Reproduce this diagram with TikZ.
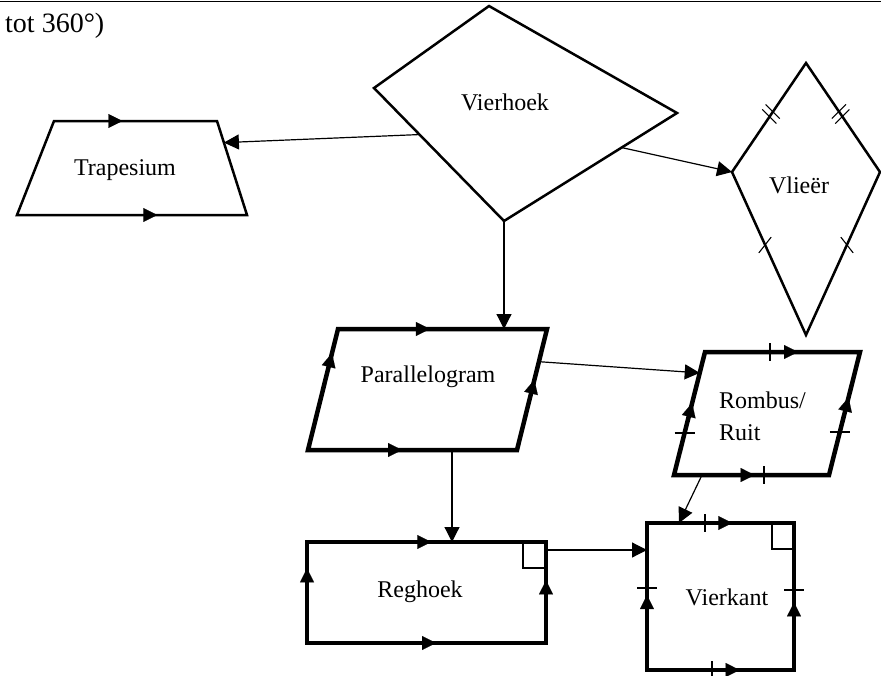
\documentclass[tikz,border=0pt]{standalone}
\usepackage{fontspec}
\setmainfont{Liberation Serif}
\usetikzlibrary{arrows.meta,calc}

\tikzset{
  shp/.style={line width=2.5pt, line join=miter},
  boldshp/.style={line width=4.5pt, line join=miter},
  conn/.style={line width=1.2pt, -{Triangle[length=15pt,width=15pt]}},
  edgetip/.style={line width=0.1pt, -{Triangle[length=14pt,width=14pt]}},
  tickline/.style={line width=1.1pt},
  lbl/.style={font=\fontsize{24}{32}\selectfont, inner sep=0pt},
}

\begin{document}
\begin{tikzpicture}[x=1pt,y=-1pt]
  \useasboundingbox (0,0) rectangle (881,675);
  \draw[line width=1.8pt] (0,1.5) -- (881,1.5);
  \node[lbl, anchor=base west, font=\fontsize{28}{30}\selectfont] (title) at (5,32) {tot 360°)};

  % corner points (pixels, y down)
  \coordinate (vh-t) at (489,6);   \coordinate (vh-r) at (677,113);
  \coordinate (vh-b) at (504,221); \coordinate (vh-l) at (374,88);
  \coordinate (tr-tl) at (54,121); \coordinate (tr-tr) at (217,121);
  \coordinate (tr-br) at (247,215); \coordinate (tr-bl) at (17,215);
  \coordinate (vl-t) at (806,63);  \coordinate (vl-r) at (880,172);
  \coordinate (vl-b) at (806,335); \coordinate (vl-l) at (732,172);
  \coordinate (pa-tl) at (338,329); \coordinate (pa-tr) at (547,329);
  \coordinate (pa-br) at (517,450); \coordinate (pa-bl) at (308,450);
  \coordinate (ro-tl) at (705,352); \coordinate (ro-tr) at (860,352);
  \coordinate (ro-br) at (829,475); \coordinate (ro-bl) at (674,475);
  \coordinate (rh-tl) at (307,542); \coordinate (rh-tr) at (546,542);
  \coordinate (rh-br) at (546,643); \coordinate (rh-bl) at (307,643);
  \coordinate (vk-tl) at (647,523); \coordinate (vk-tr) at (794,523);
  \coordinate (vk-br) at (794,670); \coordinate (vk-bl) at (647,670);

  % shapes
  \draw[shp] (vh-t) -- (vh-r) -- (vh-b) -- (vh-l) -- cycle;
  \draw[shp] (tr-tl) -- (tr-tr) -- (tr-br) -- (tr-bl) -- cycle;
  \draw[shp] (vl-t) -- (vl-r) -- (vl-b) -- (vl-l) -- cycle;
  \draw[boldshp] (pa-tl) -- (pa-tr) -- (pa-br) -- (pa-bl) -- cycle;
  \draw[boldshp] (ro-tl) -- (ro-tr) -- (ro-br) -- (ro-bl) -- cycle;
  \draw[boldshp] (rh-tl) -- (rh-tr) -- (rh-br) -- (rh-bl) -- cycle;
  \draw[boldshp] (vk-tl) -- (vk-tr) -- (vk-br) -- (vk-bl) -- cycle;

  % right angles
  \draw[shp] (523,542) -- (523,568) -- (546,568);
  \draw[shp] (772,523) -- (772,549) -- (794,549);

  % parallel arrows on the sides
  \foreach \a/\b/\f in {tr-tl/tr-tr/0.42, tr-bl/tr-br/0.61,
      pa-tl/pa-tr/0.44, pa-bl/pa-br/0.45, pa-bl/pa-tl/0.80, pa-br/pa-tr/0.58,
      ro-tl/ro-tr/0.60, ro-bl/ro-br/0.52, ro-bl/ro-tl/0.585, ro-br/ro-tr/0.63,
      rh-tl/rh-tr/0.52, rh-bl/rh-br/0.54, rh-bl/rh-tl/0.74, rh-br/rh-tr/0.62,
      vk-tl/vk-tr/0.58, vk-bl/vk-br/0.63, vk-bl/vk-tl/0.51, vk-br/vk-tr/0.46}
    \draw[edgetip] (\a) -- ($(\a)!\f!(\b)$);

  % equal sides
  \foreach \x/\y/\r in {769.3/116.5/45, 772.7/111.5/45, 838.9/111.5/135, 842.3/116.5/135,
      765/245/-52, 847/245/52}
    \draw[tickline] (\x,\y) ++(\r:10) -- ++({\r+180}:20);
  \foreach \x/\y in {770/352, 764/475, 705/523, 712/670}
    \draw[tickline] (\x,\y-9) -- (\x,\y+9);
  \foreach \x/\y in {684.6/433, 839.8/432, 647/588, 794/590}
    \draw[tickline] (\x-10,\y) -- (\x+10,\y);

  % labels
  \node[lbl] (vierhoek) at (505,102) {Vierhoek};
  \node[lbl] (trapesium) at (125,170) {Trapesium};
  \node[lbl] (vlieer) at (799,185) {Vlieër};
  \node[lbl] (parallelogram) at (428,377) {Parallelogram};
  \node[lbl, align=left, anchor=west] (rombus) at (719,416) {Rombus/\\Ruit};
  \node[lbl] (reghoek) at (420,592) {Reghoek};
  \node[lbl] (vierkant) at (727,597) {Vierkant};

  % connector ends
  \coordinate (c-vh-tr) at ($(vh-l)!0.35!(vh-b)$);
  \coordinate (c-tr) at ($(tr-tr)!0.23!(tr-br)$);
  \coordinate (c-vh-vl) at ($(vh-r)!0.32!(vh-b)$);
  \coordinate (c-pa-top) at (504,329);
  \coordinate (c-pa-ro) at ($(pa-tr)!0.27!(pa-br)$);
  \coordinate (c-ro) at ($(ro-tl)!0.17!(ro-bl)$);
  \coordinate (c-pa-bot) at (452,450);
  \coordinate (c-rh-top) at (452,542);
  \coordinate (c-ro-bot) at (702,475);
  \coordinate (c-vk-top) at (679,523);
  \coordinate (c-rh-vk) at (546,550);
  \coordinate (c-vk) at (647,550);

  \draw[conn] (c-vh-tr) -- (c-tr);
  \draw[conn] (c-vh-vl) -- (vl-l);
  \draw[conn] (vh-b) -- (c-pa-top);
  \draw[conn] (c-pa-ro) -- (c-ro);
  \draw[conn] (c-pa-bot) -- (c-rh-top);
  \draw[conn] (c-ro-bot) -- (c-vk-top);
  \draw[conn] (c-rh-vk) -- (c-vk);
\end{tikzpicture}
\end{document}
